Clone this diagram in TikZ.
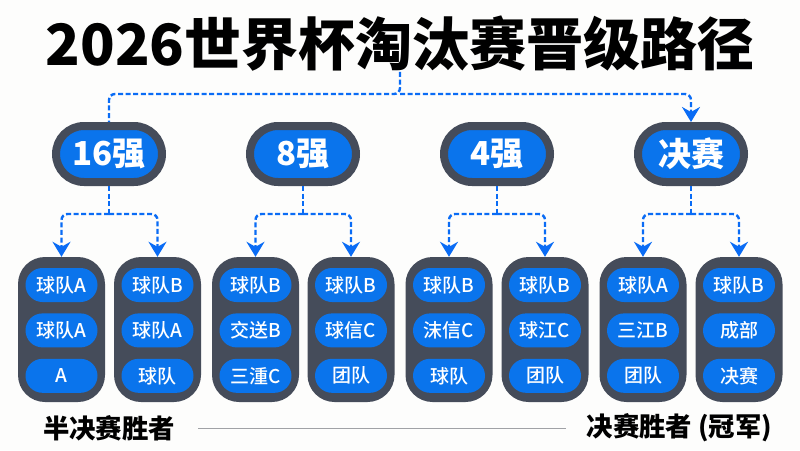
\documentclass[tikz,border=0pt]{standalone}
\usepackage{fontspec}
\setmainfont{Noto Sans CJK SC}
\newfontfamily\titlefont{Noto Sans CJK SC Black}
\newfontfamily\teamfont{Noto Sans CJK SC Medium}
\usetikzlibrary{positioning}
\usetikzlibrary{arrows.meta}
\definecolor{slatebox}{HTML}{454C5A}
\definecolor{pillblue}{HTML}{0A74EC}
\definecolor{flowblue}{HTML}{0A6CF5}
\definecolor{pagetint}{HTML}{FDFDFC}
\definecolor{rulegray}{HTML}{A0A2A6}
\tikzset{
    stage/.style={rectangle, fill=pillblue, draw=slatebox, line width=8pt, rounded corners=28pt,
        minimum width=106pt, minimum height=56pt, text=white, font=\fontsize{33}{33}\selectfont\bfseries},
    card/.style={rectangle, fill=slatebox, rounded corners=27pt, minimum width=87pt, minimum height=145pt},
    team/.style={rectangle, fill=pillblue, rounded corners=17pt, minimum width=72pt, minimum height=34pt,
        inner sep=0pt, text=white, font=\fontsize{19}{19}\selectfont\teamfont},
    caption/.style={inner sep=0pt, font=\fontsize{26.4}{26.4}\selectfont\bfseries},
    flow/.style={flowblue, line width=2.4pt, dash pattern=on 5pt off 2.6pt, rounded corners=6pt},
    tip/.style={-{Stealth[length=15pt, width=18pt, inset=5pt]}},
}

\begin{document}
\begin{tikzpicture}[x=1pt, y=-1pt]
        \fill[pagetint] (0, 0) rectangle (800, 450);
        \useasboundingbox (0, 0) rectangle (800, 450);

        \node[inner sep=0pt, font=\fontsize{57}{57}\selectfont\titlefont] (title) at (400, 44) {2026世界杯淘汰赛晋级路径};

        \node[stage] (s16) at (109, 154) {16强};
        \node[stage] (s8) at (303, 154) {8强};
        \node[stage] (s4) at (497, 154) {4强};
        \node[stage] (final) at (691, 154) {决赛};

        \node[card] (c1) at (61.5, 329.5) {};
        \node[card] (c2) at (157.5, 329.5) {};
        \node[card] (c3) at (255.5, 329.5) {};
        \node[card] (c4) at (351, 329.5) {};
        \node[card] (c5) at (449, 329.5) {};
        \node[card] (c6) at (545, 329.5) {};
        \node[card] (c7) at (643, 329.5) {};
        \node[card] (c8) at (739, 329.5) {};

        \node[team] (c1a) [below=11pt of c1.north] {球队A};
        \node[team] (c1b) [below=11pt of c1a] {球队A};
        \node[team] (c1c) [below=11pt of c1b] {A};

        \node[team] (c2a) [below=11pt of c2.north] {球队B};
        \node[team] (c2b) [below=11pt of c2a] {球队A};
        \node[team] (c2c) [below=11pt of c2b] {球队};

        \node[team] (c3a) [below=11pt of c3.north] {球队B};
        \node[team] (c3b) [below=11pt of c3a] {交送B};
        \node[team] (c3c) [below=11pt of c3b] {三湩C};

        \node[team] (c4a) [below=11pt of c4.north] {球队B};
        \node[team] (c4b) [below=11pt of c4a] {球信C};
        \node[team] (c4c) [below=11pt of c4b] {团队};

        \node[team] (c5a) [below=11pt of c5.north] {球队B};
        \node[team] (c5b) [below=11pt of c5a] {沫信C};
        \node[team] (c5c) [below=11pt of c5b] {球队};

        \node[team] (c6a) [below=11pt of c6.north] {球队B};
        \node[team] (c6b) [below=11pt of c6a] {球江C};
        \node[team] (c6c) [below=11pt of c6b] {团队};

        \node[team] (c7a) [below=11pt of c7.north] {球队A};
        \node[team] (c7b) [below=11pt of c7a] {三江B};
        \node[team] (c7c) [below=11pt of c7b] {团队};

        \node[team] (c8a) [below=11pt of c8.north] {球队B};
        \node[team] (c8b) [below=11pt of c8a] {成部};
        \node[team] (c8c) [below=11pt of c8b] {决赛};

        \node[caption] (semi) at (109, 428) {半决赛胜者};
        \node[caption] (champ) at (679.5, 428) {决赛胜者 (冠军)};

        \coordinate (titlefork) at (400, 94);
        \coordinate[below=28pt of s16] (fork1);
        \coordinate[below=28pt of s8] (fork2);
        \coordinate[below=28pt of s4] (fork3);
        \coordinate[below=28pt of final] (fork4);

        \begin{scope}[flow]
            \draw (title.south) -- (titlefork) -| (s16.north);
            \draw[tip] (titlefork) -| (final.north);

            \draw (s16.south) -- (fork1);
            \draw[tip] (fork1) -| (c1.north);
            \draw[tip] (fork1) -| (c2.north);

            \draw (s8.south) -- (fork2);
            \draw[tip] (fork2) -| (c3.north);
            \draw[tip] (fork2) -| (c4.north);

            \draw (s4.south) -- (fork3);
            \draw[tip] (fork3) -| (c5.north);
            \draw[tip] (fork3) -| (c6.north);

            \draw (final.south) -- (fork4);
            \draw[tip] (fork4) -| (c7.north);
            \draw[tip] (fork4) -| (c8.north);
        \end{scope}

        \draw[rulegray, line width=1pt, shorten <=23pt, shorten >=21pt] (semi) -- (champ);

    \end{tikzpicture}
\end{document}
